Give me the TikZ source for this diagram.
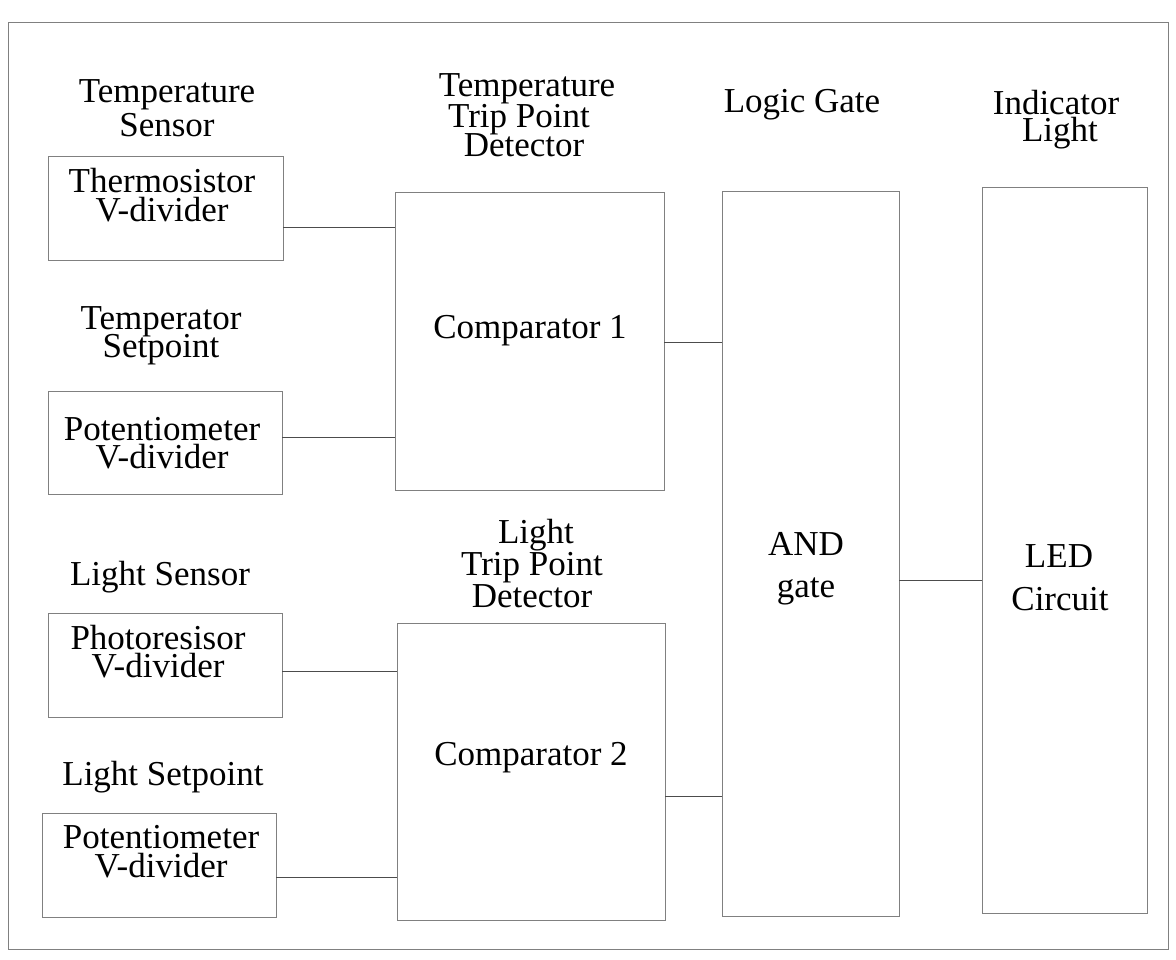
\documentclass[tikz,border=0pt]{standalone}
\usepackage{fontspec}
\setmainfont{Liberation Serif}
\begin{document}
\begin{tikzpicture}[x=1pt,y=-1pt,
  blk/.style={draw=black!50, line width=1pt, fill=none, inner sep=0pt, outer sep=0pt},
  wire/.style={draw=black!70, line width=1pt},
  lbl/.style={inner sep=0pt, anchor=base, font=\fontsize{35}{40}\selectfont, text=black}]
\fill[white] (0,0) rectangle (1176,960);
\useasboundingbox (0,0) rectangle (1176,960);
\draw[draw=black!50, line width=1pt] (8,23) rectangle (1168,949);
% boxes
\node[blk, minimum width=235pt, minimum height=104pt] (ts) at (165.5,209) {};
\node[blk, minimum width=234pt, minimum height=103pt] (pot1) at (165,442.5) {};
\node[blk, minimum width=234pt, minimum height=104pt] (photo) at (165,665) {};
\node[blk, minimum width=234pt, minimum height=104pt] (pot2) at (159,865) {};
\node[blk, minimum width=269pt, minimum height=297pt] (c1) at (529.5,341.5) {};
\node[blk, minimum width=268pt, minimum height=297pt] (c2) at (531,771.5) {};
\node[blk, minimum width=177pt, minimum height=724pt] (and) at (810.5,554) {};
\node[blk, minimum width=165pt, minimum height=725pt] (led) at (1064.5,550.5) {};
% connectors
\draw[wire] (ts.east |- 0,228) -- (c1.west |- 0,228);
\draw[wire] (pot1.east |- 0,437.5) -- (c1.west |- 0,437.5);
\draw[wire] (photo.east |- 0,671.5) -- (c2.west |- 0,671.5);
\draw[wire] (pot2.east |- 0,877) -- (c2.west |- 0,877);
\draw[wire] (c1.east |- 0,342.5) -- (and.west |- 0,342.5);
\draw[wire] (c2.east |- 0,796) -- (and.west |- 0,796);
\draw[wire] (and.east |- 0,580.5) -- (led.west |- 0,580.5);
% labels
\node[lbl] (tsa) at (167,103) {Temperature};
\node[lbl] (tsb) at (167,137) {Sensor};
\node[lbl] (tsc) at (162,193) {Thermosistor};
\node[lbl] (tsd) at (162,222) {V-divider};
\node[lbl] (tpa) at (161,330) {Temperator};
\node[lbl] (tpb) at (161,357) {Setpoint};
\node[lbl] (p1a) at (162,440) {Potentiometer};
\node[lbl] (p1b) at (162,468) {V-divider};
\node[lbl] (lsa) at (160,585) {Light Sensor};
\node[lbl] (pha) at (158,649) {Photoresisor};
\node[lbl] (phb) at (158,677) {V-divider};
\node[lbl] (lpa) at (163,785) {Light Setpoint};
\node[lbl] (p2a) at (161,848) {Potentiometer};
\node[lbl] (p2b) at (161,877) {V-divider};
\node[lbl] (t1a) at (527,97) {Temperature};
\node[lbl] (t1b) at (519,128) {Trip Point};
\node[lbl] (t1c) at (524,157) {Detector};
\node[lbl] (c1t) at (530,338) {Comparator 1};
\node[lbl] (t2a) at (536,543) {Light};
\node[lbl] (t2b) at (532,575) {Trip Point};
\node[lbl] (t2c) at (532,607) {Detector};
\node[lbl] (c2t) at (531,765) {Comparator 2};
\node[lbl] (lga) at (802,113) {Logic Gate};
\node[lbl] (anda) at (806,555) {AND};
\node[lbl] (andb) at (806,597) {gate};
\node[lbl] (ina) at (1056,115) {Indicator};
\node[lbl] (inb) at (1060,142) {Light};
\node[lbl] (leda) at (1059,567) {LED};
\node[lbl] (ledb) at (1060,610) {Circuit};
\end{tikzpicture}
\end{document}
